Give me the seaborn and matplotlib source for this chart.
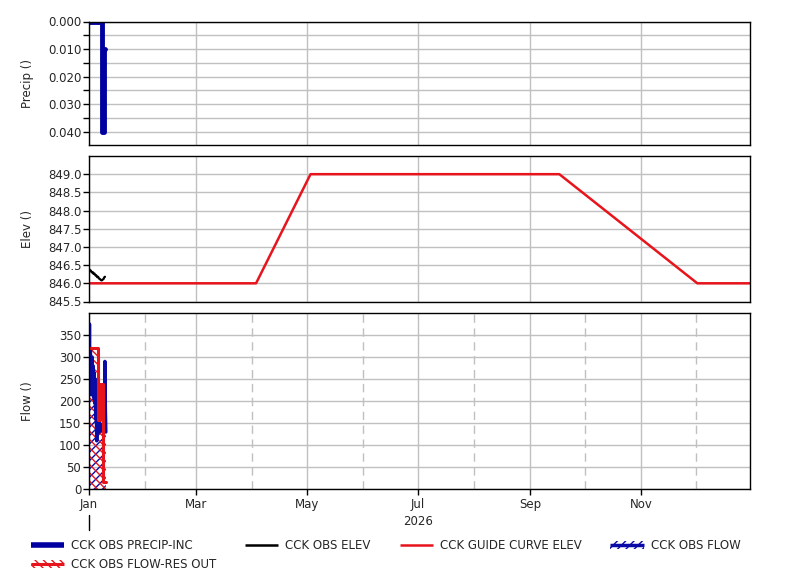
import numpy as np
import pandas as pd
import matplotlib
matplotlib.use("Agg")
import matplotlib.pyplot as plt
import matplotlib.dates as mdates
from matplotlib.lines import Line2D
from matplotlib.patches import Patch
from matplotlib.legend_handler import HandlerTuple
import seaborn as sns

# ---------------- data (day offsets from 2026-01-01) ----------------
START = "2026-01-01"
END = "2026-12-31"

precip_days = [0.0, 7.1, 8.0, 8.6]
precip_vals = [0.0, 0.040, 0.010, 0.010]

elev_obs_days = [0, 0.5, 1, 1.5, 2, 2.5, 3, 3.5, 4, 4.5, 5, 5.5, 6, 6.5, 7, 7.5, 8, 8.5, 8.8]
elev_obs_vals = [846.40, 846.34, 846.35, 846.30, 846.31, 846.26, 846.27, 846.22, 846.22,
                 846.17, 846.18, 846.13, 846.12, 846.09, 846.08, 846.10, 846.12,
                 846.17, 846.18]

guide_dates = ["2026-01-01", "2026-04-03", "2026-05-03", "2026-09-17", "2026-12-02", "2026-12-31"]
guide_vals = [846.0, 846.0, 849.0, 849.0, 846.0, 846.0]

flow_days = [0, 0.25, 0.5, 0.75, 1.0, 1.25, 1.5, 1.75, 2.0, 2.25, 2.5, 2.75, 3.0,
             3.25, 3.5, 3.75, 4.0, 4.25, 4.5, 4.75, 5.0, 5.5, 6.0, 6.5, 7.0, 7.5,
             8.0, 8.5, 8.75, 9.0, 9.25]
flow_vals = [260, 375, 240, 320, 215, 290, 250, 300, 230, 280, 210, 265, 220,
             195, 250, 160, 200, 110, 150, 135, 155, 130, 150, 140, 135, 145,
             130, 150, 290, 180, 130]

resout_days = [0, 4.8, 6.0, 7.9, 9.2]
resout_vals = [320, 157, 240, 17, 17]

# ---------------- styling ----------------
sns.set_theme(style="white")
plt.rcParams["font.family"] = ["DejaVu Sans"]
FS = 8.5
plt.rcParams["font.size"] = FS

BLUE = "#0a0aa6"
RED = "#e8141c"
GRID = "#c0c0c0"

t0 = pd.Timestamp(START)
def to_dates(days):
    return t0 + pd.to_timedelta(np.asarray(days, dtype=float), unit="D")

precip_df = pd.DataFrame({"date": to_dates(precip_days), "v": precip_vals})
elev_df = pd.DataFrame({"date": to_dates(elev_obs_days), "v": elev_obs_vals})
guide_df = pd.DataFrame({"date": pd.to_datetime(guide_dates), "v": guide_vals})
flow_df = pd.DataFrame({"date": to_dates(flow_days), "v": flow_vals})
res_df = pd.DataFrame({"date": to_dates(resout_days), "v": resout_vals})

fig = plt.figure(figsize=(8.01, 5.80), dpi=100)
L, R = 89 / 801, 750 / 801
def box(ytop, ybot):
    return [L, 1 - ybot / 580, R - L, (ybot - ytop) / 580]

ax1 = fig.add_axes(box(21.5, 145.3))
ax2 = fig.add_axes(box(156, 301.5), sharex=ax1)
ax3 = fig.add_axes(box(313, 489.3), sharex=ax1)

# Precip
sns.lineplot(data=precip_df, x="date", y="v", ax=ax1, color="#0000a0", lw=3.5,
             drawstyle="steps-post", estimator=None)
ax1.set_ylim(0.045, 0.0)
ax1.set_yticks([0.0, 0.01, 0.02, 0.03, 0.04])
ax1.set_yticks(np.arange(0.005, 0.045, 0.01), minor=True)
ax1.yaxis.set_major_formatter(matplotlib.ticker.FormatStrFormatter("%.3f"))
ax1.set_ylabel("Precip ()")

# Elev
sns.lineplot(data=guide_df, x="date", y="v", ax=ax2, color=RED, lw=1.8, estimator=None)
sns.lineplot(data=elev_df, x="date", y="v", ax=ax2, color="black", lw=1.6, estimator=None)
ax2.set_ylim(845.5, 849.5)
ax2.set_yticks(np.arange(845.5, 849.01, 0.5))
ax2.yaxis.set_major_formatter(matplotlib.ticker.FormatStrFormatter("%.1f"))
ax2.set_ylabel("Elev ()")

# Flow
ax3.fill_between(flow_df["date"], 0, flow_df["v"], facecolor="none", edgecolor=BLUE,
                 hatch="////", linewidth=0)
ax3.fill_between(res_df["date"], 0, res_df["v"], facecolor="none", edgecolor=RED,
                 hatch="\\\\\\\\", linewidth=0, step="post")
sns.lineplot(data=flow_df, x="date", y="v", ax=ax3, color=BLUE, lw=2.5, estimator=None)
sns.lineplot(data=res_df, x="date", y="v", ax=ax3, color=RED, lw=2.2,
             drawstyle="steps-post", estimator=None)
ax3.set_ylim(0, 400)
ax3.set_yticks(np.arange(0, 351, 50))
ax3.set_ylabel("Flow ()")

ax3.set_xlim(pd.Timestamp(START), pd.Timestamp(END))
ax3.xaxis.set_major_locator(mdates.MonthLocator(bymonth=[1, 3, 5, 7, 9, 11]))
ax3.xaxis.set_minor_locator(mdates.MonthLocator(bymonth=[2, 4, 6, 8, 10, 12]))
ax3.xaxis.set_major_formatter(mdates.DateFormatter("%b"))

for ax in (ax1, ax2, ax3):
    ax.set_xlabel("")
    ax.grid(True, which="major", axis="both", color=GRID, lw=1.0, zorder=0)
    ax.set_axisbelow(True)
    for s in ax.spines.values():
        s.set_color("black")
        s.set_linewidth(1.0)
    ax.tick_params(axis="y", which="both", direction="out", length=4, width=1,
                   color="black", pad=1.5, labelsize=FS, left=True)
    ax.yaxis.set_label_coords(-0.083, 0.5)
    ax.yaxis.label.set_size(FS)
ax1.grid(True, which="minor", axis="y", color=GRID, lw=1.0)
ax3.grid(True, which="minor", axis="x", color=GRID, lw=1.0, ls=(0, (6, 4)))

for ax in (ax1, ax2):
    ax.tick_params(axis="x", which="both", length=0, labelbottom=False)
ax3.tick_params(axis="x", which="major", direction="out", length=4, width=1,
                color="black", pad=2.5, labelsize=FS, bottom=True)
ax3.tick_params(axis="x", which="minor", length=0)

# year label and year marker
trans = matplotlib.transforms.blended_transform_factory(ax3.transData, ax3.transAxes)
ax3.text(pd.Timestamp("2026-07-01"), -0.18, "2026", transform=trans,
         ha="center", va="center", fontsize=FS)
ax3.plot([pd.Timestamp(START)] * 2, [-0.145, -0.23], transform=trans, color="black",
         lw=1, clip_on=False)

# legend
h_precip = Line2D([], [], color="#0000a0", lw=4, solid_capstyle="butt")
h_elev = Line2D([], [], color="black", lw=1.8, solid_capstyle="butt")
h_guide = Line2D([], [], color=RED, lw=1.8, solid_capstyle="butt")
h_flow = (Patch(facecolor="none", edgecolor=BLUE, hatch="////", lw=0),
          Line2D([], [], color=BLUE, lw=2.5, solid_capstyle="butt"))
h_res = (Patch(facecolor="none", edgecolor=RED, hatch="\\\\\\\\", lw=0),
         Line2D([], [], color=RED, lw=2.2, solid_capstyle="butt"))
handles = [h_precip, h_res, h_elev, h_guide, h_flow]
labels = ["CCK OBS PRECIP-INC", "CCK OBS FLOW-RES OUT", "CCK OBS ELEV",
          "CCK GUIDE CURVE ELEV", "CCK OBS FLOW"]
fig.legend(handles, labels, ncol=4, loc="upper left",
           bbox_to_anchor=(25 / 801, 1 - 533 / 580), frameon=False, borderpad=0,
           handlelength=2.8, handletextpad=0.6, columnspacing=2.45, labelspacing=0.5,
           fontsize=FS, handler_map={tuple: HandlerTuple(ndivide=1, pad=0)})

fig.savefig("out.png", dpi=100)
